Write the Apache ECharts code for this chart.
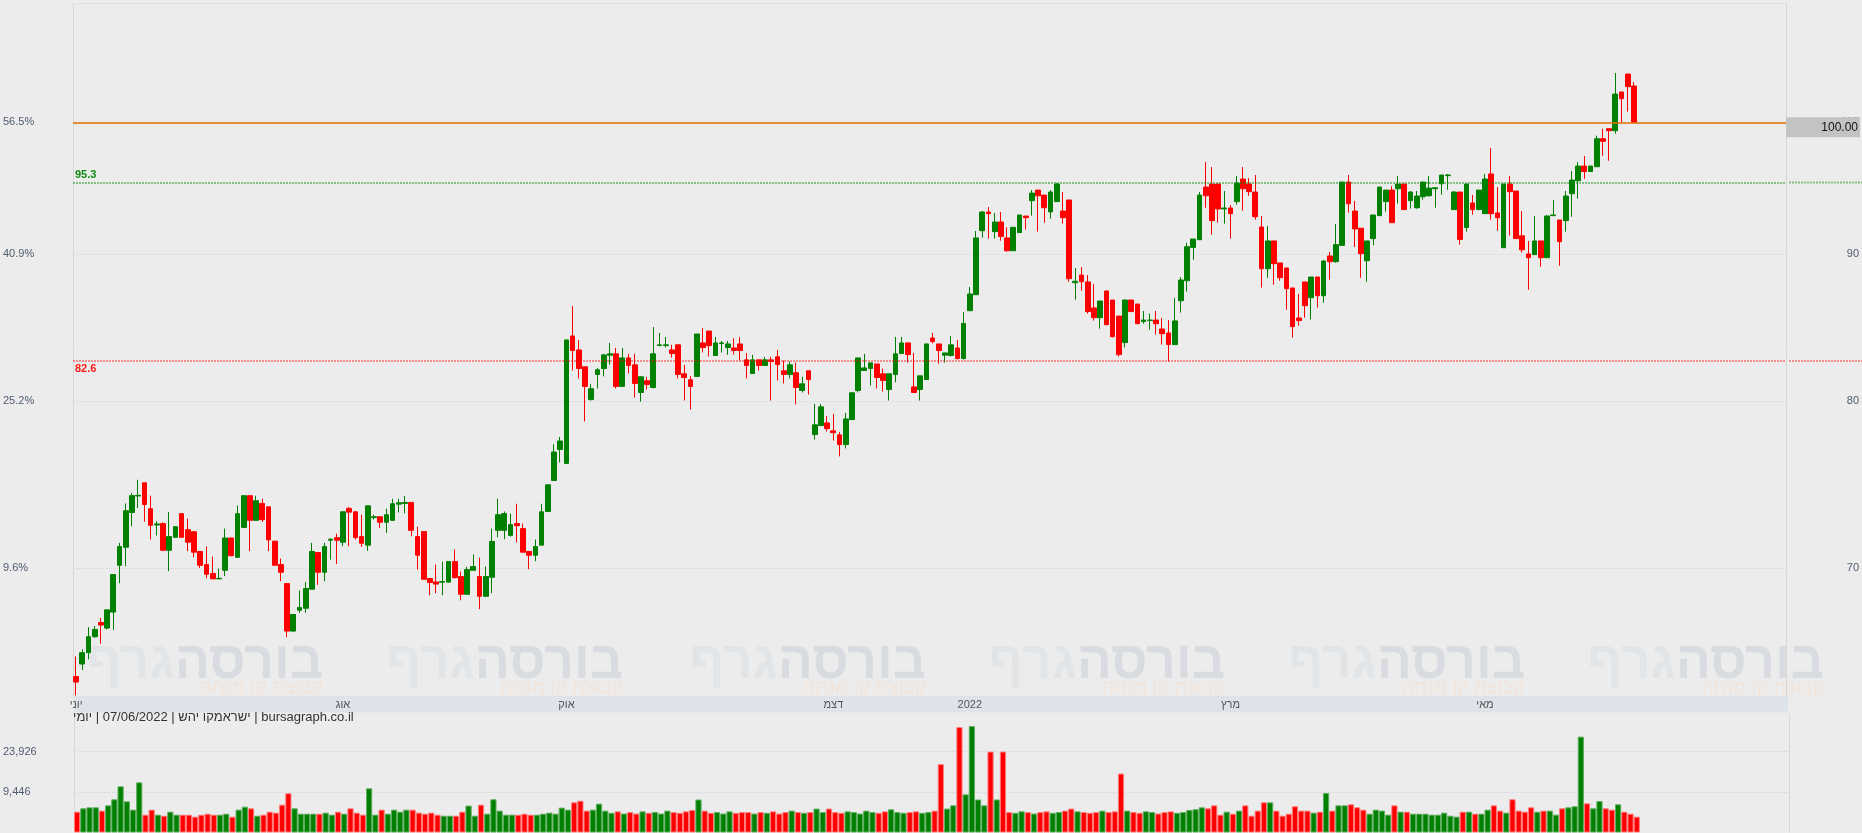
<!DOCTYPE html>
<html><head><meta charset="utf-8">
<script src="https://cdn.jsdelivr.net/npm/echarts@6/dist/echarts.min.js"></script>
<style>html,body{margin:0;padding:0;background:#ececec;}#c{width:1862px;height:833px;}</style>
</head><body><div id="c"></div>
<script>
// ---- data (daily, 1 Jun 2021 .. 7 Jun 2022) ----
const opens = [
64.16,64.81,65.40,66.24,67.00,66.70,67.56,70.14,71.16,73.17,
74.14,74.93,73.39,72.44,72.52,70.99,71.73,73.10,72.17,72.05,
70.92,70.18,69.68,69.38,69.86,71.69,70.59,72.30,74.16,72.71,
73.70,73.50,71.51,70.18,69.12,66.54,67.66,67.77,68.81,70.86,
69.75,71.56,71.71,71.45,73.41,73.21,71.77,71.28,72.87,72.92,
72.60,72.71,73.66,73.70,73.76,71.77,72.06,69.40,69.21,69.20,
69.20,70.35,69.51,68.53,69.86,69.51,68.42,69.47,72.13,72.13,
71.84,72.52,72.23,70.92,70.71,71.28,73.23,75.07,76.96,76.10,
84.28,83.34,82.22,80.09,81.72,82.11,82.99,83.08,80.94,82.81,
82.35,80.55,81.31,80.87,83.63,83.63,83.34,83.68,81.76,81.37,
81.59,83.81,84.61,82.97,83.77,83.50,83.47,83.74,82.68,81.78,
82.68,82.31,82.68,82.88,81.96,81.72,81.83,80.68,81.96,77.88,
78.44,78.61,78.11,77.86,77.26,78.82,80.68,81.98,82.11,82.41,
81.76,80.74,81.72,83.10,83.81,80.91,80.74,81.39,84.14,83.74,
82.99,82.97,83.47,82.77,86.00,87.11,91.69,93.07,91.62,92.33,
91.16,90.23,91.55,92.77,93.92,94.72,94.34,93.08,93.85,93.14,
93.97,87.95,88.49,88.00,86.19,85.52,87.37,86.74,85.63,83.83,
86.74,86.46,85.25,85.32,85.36,84.75,84.48,83.70,86.69,88.09,
90.47,91.03,94.95,95.18,95.18,93.30,93.37,93.85,95.56,95.18,
94.57,91.96,88.94,90.94,89.35,88.99,87.58,85.50,88.00,86.90,
88.35,87.04,89.85,89.44,90.62,95.33,93.14,91.87,89.51,91.11,
92.80,93.85,94.72,94.82,95.18,93.92,93.39,94.22,94.29,94.82,
95.20,95.82,93.25,94.57,91.92,93.75,93.25,92.95,95.95,93.00,
90.45,95.18,94.65,91.31,90.00,89.95,90.94,89.73,92.80,92.48,
92.43,94.45,95.43,96.56,96.14,96.51,98.70,99.49,99.33,102.46,
103.94,102.95
];
const highs = [
65.20,65.57,66.75,66.81,67.25,67.68,69.62,71.41,73.70,74.31,
75.11,74.93,74.16,72.65,72.60,73.19,72.34,73.10,72.81,72.05,
70.92,71.20,70.63,69.96,72.23,71.69,73.58,74.16,74.16,74.16,
73.98,73.50,71.51,70.52,69.12,67.43,68.74,69.21,71.41,70.86,
71.41,71.67,71.94,73.21,73.50,73.21,73.04,73.56,73.04,72.92,
73.39,73.98,73.98,74.15,73.76,72.34,72.06,69.40,70.18,70.35,
70.35,71.03,69.79,70.05,70.75,70.57,70.07,72.23,73.98,73.23,
73.10,73.68,72.52,70.92,71.60,73.68,74.81,77.28,77.73,84.01,
86.32,84.01,82.22,81.11,82.15,83.08,83.81,83.48,83.48,83.08,
83.08,81.57,81.57,84.88,84.48,84.21,83.68,83.68,82.35,81.63,
84.41,84.81,84.61,84.21,83.94,83.94,84.12,84.19,83.14,83.01,
82.68,82.88,82.88,83.34,82.64,82.57,82.50,81.57,81.96,79.82,
79.82,79.05,79.18,78.04,79.24,80.53,82.81,83.08,82.48,82.41,
82.11,81.76,84.21,84.21,83.81,83.14,81.63,83.74,84.48,83.74,
83.14,84.28,84.01,85.91,87.65,91.67,93.14,93.44,93.00,93.07,
91.94,91.94,92.85,92.77,94.72,94.72,94.34,94.72,95.25,94.57,
93.97,88.99,89.06,88.49,87.86,86.67,87.37,86.74,85.63,86.74,
86.74,86.46,85.98,85.80,85.98,85.50,85.36,86.88,88.35,90.81,
91.08,94.57,96.87,96.48,95.18,94.65,93.59,95.79,96.48,95.63,
95.87,92.77,92.03,90.94,89.35,88.99,87.58,87.16,88.00,88.35,
88.35,89.56,90.14,92.18,95.33,95.87,93.90,91.87,90.94,92.85,
94.95,94.72,95.02,95.79,95.18,94.65,94.65,95.33,95.79,94.95,
95.87,95.95,94.65,94.57,95.18,94.35,94.72,95.95,97.96,94.95,
95.18,95.79,94.65,93.15,90.94,92.77,90.94,92.85,93.97,92.48,
94.65,96.17,96.87,97.33,96.56,98.94,99.49,99.49,104.03,102.46,
103.94,103.28
];
const lows = [
63.20,64.50,65.05,66.19,65.87,66.63,66.60,69.14,70.09,72.36,
73.43,72.63,71.60,71.83,70.94,69.81,71.73,71.73,70.94,70.59,
69.99,69.41,69.38,69.38,69.53,70.65,70.59,72.30,70.94,72.71,
72.62,70.94,70.14,69.25,66.22,66.54,67.52,67.52,68.81,69.05,
69.25,70.46,70.22,71.22,71.22,71.60,71.18,70.96,72.75,72.27,
71.98,72.71,73.17,73.12,71.79,69.90,69.36,68.48,68.59,68.48,
69.20,69.41,68.20,68.53,69.86,67.72,68.42,68.59,71.73,71.62,
71.77,71.43,70.88,69.92,70.37,71.28,73.23,75.07,76.16,76.10,
81.98,81.46,78.70,80.03,80.81,81.59,82.37,80.81,80.94,81.79,
80.22,79.96,80.74,80.81,83.63,83.50,82.83,81.46,80.03,79.46,
81.59,83.17,82.90,82.97,83.17,83.01,83.03,82.64,81.46,81.78,
81.98,82.31,80.03,81.33,81.13,81.46,79.78,80.55,80.42,77.57,
78.44,78.07,77.51,76.53,77.02,78.82,80.55,81.98,81.00,80.81,
80.61,80.03,81.20,83.10,82.50,80.55,80.03,81.39,83.77,82.43,
82.50,82.90,82.70,82.70,86.00,87.11,91.18,91.11,91.11,90.96,
90.16,90.23,91.55,91.77,92.80,91.62,92.28,92.57,93.85,92.21,
88.02,86.76,87.39,85.80,85.32,84.77,85.04,84.17,82.90,83.50,
85.94,85.11,85.11,84.70,84.37,83.70,82.57,83.70,85.87,87.32,
89.58,91.03,93.39,91.40,92.28,92.21,91.11,93.62,93.17,94.29,
92.50,87.60,88.30,87.81,88.09,86.07,84.17,84.98,85.52,85.39,
86.21,86.55,88.16,89.37,90.62,93.02,90.50,88.30,88.02,90.62,
92.80,93.10,92.28,93.70,93.25,93.32,93.32,93.99,94.22,93.39,
94.37,94.75,93.25,90.67,91.62,92.87,93.25,92.95,92.50,91.69,
90.45,91.33,91.11,90.09,87.46,89.95,89.09,89.73,92.80,89.16,
91.62,92.72,94.07,95.58,96.14,96.51,97.36,96.97,99.09,99.97,
100.86,100.00
];
const closes = [
63.88,65.40,66.24,66.63,66.86,67.68,69.62,71.20,73.27,74.16,
74.18,73.64,72.42,72.50,70.99,71.77,72.34,71.73,71.45,70.88,
70.14,69.64,69.38,69.41,71.69,70.68,73.10,74.16,72.71,73.86,
72.75,71.58,70.14,69.75,66.54,67.43,67.81,68.85,70.92,69.75,
71.20,71.62,71.56,73.21,73.19,71.71,71.39,73.56,72.92,72.60,
73.04,73.68,73.74,73.76,72.13,70.71,69.36,69.18,69.09,69.23,
70.35,69.45,68.53,69.90,70.07,68.42,69.51,71.49,73.04,73.10,
72.46,72.40,70.88,70.71,71.20,73.21,74.81,76.80,77.48,84.01,
83.30,82.11,80.94,80.79,82.02,83.01,83.08,80.94,82.81,82.31,
81.13,81.57,81.07,83.08,83.68,83.68,83.10,81.72,81.52,80.94,
84.41,83.50,83.63,83.81,83.81,83.74,83.30,83.30,82.31,82.68,
82.31,82.68,82.57,82.37,81.72,82.35,80.87,81.11,81.39,78.49,
79.63,78.25,78.00,77.26,78.86,80.53,82.81,82.15,82.48,81.52,
81.33,81.76,83.08,83.81,83.03,80.55,81.63,83.74,83.90,83.30,
83.14,83.68,82.77,85.13,87.16,91.16,93.07,92.95,92.33,91.26,
90.23,91.94,92.85,92.65,94.49,94.29,93.39,94.57,95.18,92.65,
88.23,88.05,88.02,85.94,85.52,86.67,85.04,84.23,83.03,86.74,
85.94,85.11,85.36,85.36,85.11,84.43,83.70,85.30,88.14,90.52,
91.08,94.34,94.29,92.43,93.30,93.37,92.95,95.25,94.82,94.60,
92.72,88.94,90.94,89.30,88.30,87.53,84.91,85.32,86.35,88.35,
87.04,89.49,89.44,90.67,95.33,93.69,91.82,90.02,90.94,92.85,
94.95,94.72,92.28,95.18,93.25,94.57,94.27,95.33,94.87,94.90,
95.87,95.87,94.57,91.04,95.18,93.25,94.72,95.56,92.95,92.65,
95.18,94.60,91.11,90.30,89.73,90.94,89.73,92.77,92.85,90.89,
94.27,95.48,96.56,96.14,96.56,98.70,98.49,99.33,102.29,101.91,
102.90,100.00
];
const volumes = [
6050,6540,6690,6690,6200,7000,8040,10830,7680,6340,
11860,5650,6340,5650,5520,6050,5650,5650,5650,5400,
5650,5780,5650,5650,5780,5400,6340,6790,6540,5520,
5650,6050,5920,7110,9220,6540,5780,5780,5780,5780,
5920,5650,6050,5780,6540,5920,5650,10340,5650,6340,
5780,6340,6050,6340,6340,5920,5780,5920,5650,5520,
5520,5520,6050,6960,5520,7110,5780,8040,6200,5650,
5650,5650,5780,5650,5650,5780,5920,5780,6640,6340,
7500,7780,6200,6340,7270,6200,5900,6100,5800,6000,
5800,6100,5900,6000,5800,6200,6000,5900,6100,6300,
8000,6200,5900,6000,5800,6100,5900,6000,6000,5800,
6000,5900,6100,5800,6000,6200,6000,5900,6000,6500,
6000,6500,6000,5900,6100,6000,5800,6200,6000,5900,
6100,6400,6000,5900,6000,6100,5900,6000,6200,18000,
6500,7000,42000,9000,43000,8000,7000,24000,8000,24000,
6000,5900,6100,6000,5800,6000,6100,5900,6000,6200,
6500,6100,6000,5900,6000,6200,6000,6100,14500,6200,
6000,5900,6100,6000,5800,6000,6100,5900,6000,6300,
6400,6690,6540,7000,5650,6050,5780,6200,7000,5520,
6200,7500,7500,6200,5520,5780,6850,6200,6200,5920,
6050,9300,6200,7000,7000,7170,6690,6340,5780,6340,
6200,5650,7000,6050,6050,5780,5780,5780,5650,5650,
5920,5520,5400,6050,6050,5780,5780,6340,7000,6200,
5920,8040,6200,6050,6690,6050,6200,6200,5650,6540,
6690,6850,33800,7330,6540,7720,6540,6340,7170,6050,
5780,5400
];
// month labels by trading-day index
const monthLabelIdx = [0, 43, 79, 122, 144, 186, 227];
const monthLabelTxt = ['יוני', 'אוג', 'אוק', 'דצמ', '2022', 'מרץ', 'מאי'];
const priceTicks = [70, 80, 90, 100];
const pctLabels = ['9.6%', '25.2%', '40.9%', '56.5%'];
const volTicks = [9446, 23926];
const resistLevel = 95.3;
const supportLevel = 82.6;
const lastPrice = 100.00;
const infoText = 'יומי\u200E | 07/06/2022 | ישראמקו יהש\u200E | bursagraph.co.il';

// ---- chart ----
const N_SLOTS = 276;
const slots = Array.from({length: N_SLOTS}, (_, i) => String(i));
const UP = '#008000', DOWN = '#ff0000';
const FONT = '"Liberation Sans", Arial, sans-serif';
const candleData = opens.map((o, i) => [o, closes[i], lows[i], highs[i]]);
const volData = volumes.map((v, i) => {
  const up = closes[i] >= opens[i];
  return {value: v, itemStyle: {color: up ? UP : DOWN, borderColor: up ? '#5fae5f' : '#ff7d7d'}};
});
const monthMap = {};
monthLabelIdx.forEach((k, j) => monthMap[k] = monthLabelTxt[j]);

const W = 1862, LEFT = 73, WIDTH = 1716;
const wmRight = [323, 623, 926, 1225, 1525, 1824];
const graphics = [{id: 'band', type: 'rect', z: -10, silent: true,
  shape: {x: LEFT + 1, y: 696, width: WIDTH - 2, height: 16.5}, style: {fill: '#dee3ea'}}];
wmRight.forEach((r, k) => {
  graphics.push({id: 'wm' + k, type: 'text', x: r, y: 690, z: -20, silent: true,
    style: {text: '{a|גרף}{b|בורסה}', align: 'right', verticalAlign: 'bottom',
      rich: {a: {fontSize: 52, fontWeight: 'bold', fontFamily: FONT, fill: '#e2e5e8'},
             b: {fontSize: 52, fontWeight: 'bold', fontFamily: FONT, fill: '#d8dce1'}}}});
  graphics.push({id: 'ws' + k, type: 'text', x: r, y: 697, z: -20, silent: true,
    style: {text: 'קבוצת קו מנחה', align: 'right', verticalAlign: 'bottom',
      font: '19px ' + FONT, fill: '#f3e4d9'}});
});

const chart = echarts.init(document.getElementById('c'), null, {renderer: 'canvas'});
chart.setOption({
  animation: false,
  backgroundColor: '#ececec',
  textStyle: {fontFamily: FONT},
  title: {text: infoText, left: 73, top: 711, padding: 0,
    textStyle: {fontSize: 13, fontWeight: 'normal', color: '#333', fontFamily: FONT}},
  graphic: graphics,
  grid: [
    {left: LEFT, width: WIDTH, top: 3.3, height: 692.7},
    {left: LEFT, width: WIDTH, top: 714, height: 118}
  ],
  xAxis: [
    {gridIndex: 0, type: 'category', data: slots, boundaryGap: true,
      axisLine: {show: false}, axisTick: {show: false}, splitLine: {show: false},
      axisLabel: {show: true, margin: 3, interval: 0, color: '#555', fontSize: 11,
        fontFamily: FONT, formatter: (v, i) => monthMap[i] || ''}},
    {gridIndex: 1, type: 'category', data: slots, boundaryGap: true,
      axisLine: {show: false}, axisTick: {show: false}, axisLabel: {show: false}, splitLine: {show: false}}
  ],
  yAxis: [
    {gridIndex: 0, type: 'log', logBase: 10, min: 63.17, max: 110, position: 'right',
      axisLine: {show: true, lineStyle: {color: '#d8d8d8'}},
      axisTick: {show: false, customValues: [70, 80, 90, 100, 110]},
      axisLabel: {customValues: priceTicks, align: 'right', margin: 73, color: '#4f5b70', fontSize: 11,
        fontFamily: FONT, formatter: v => String(Math.round(v))},
      splitLine: {show: true, lineStyle: {color: '#d6d6de', type: 'dotted', width: 1}}},
    {gridIndex: 0, type: 'log', logBase: 10, min: 63.17, max: 110, position: 'left',
      axisLine: {show: true, lineStyle: {color: '#d8d8d8'}},
      axisTick: {show: false},
      axisLabel: {customValues: priceTicks, align: 'left', margin: 70, color: '#4f5b70', fontSize: 11,
        fontFamily: FONT, formatter: v => pctLabels[priceTicks.indexOf(Math.round(v))] || ''},
      splitLine: {show: false}},
    {gridIndex: 1, type: 'log', logBase: 10, min: 3800, max: 56740, position: 'left',
      axisLine: {show: true, lineStyle: {color: '#d8d8d8'}},
      axisTick: {show: false, customValues: volTicks},
      axisLabel: {customValues: volTicks, align: 'left', margin: 71, color: '#4f5b70', fontSize: 11,
        fontFamily: FONT, formatter: v => Math.round(v).toLocaleString('en-US')},
      splitLine: {show: true, lineStyle: {color: '#d6d6de', type: 'dotted', width: 1}}},
    {gridIndex: 1, type: 'log', logBase: 10, min: 3800, max: 56740, position: 'right',
      axisLine: {show: true, lineStyle: {color: '#d8d8d8'}},
      axisTick: {show: false}, axisLabel: {show: false}, splitLine: {show: false}}
  ],
  series: [
    {type: 'candlestick', xAxisIndex: 0, yAxisIndex: 0, data: candleData, barWidth: '84%',
      itemStyle: {color: UP, color0: DOWN, borderColor: UP, borderColor0: DOWN, borderWidth: 1},
      markLine: {symbol: ['none', 'none'], silent: true, animation: false, precision: 2,
        data: [
          {yAxis: resistLevel,
            lineStyle: {color: 'rgba(0,140,0,0.45)', type: [2, 1], width: 2},
            label: {show: true, position: 'insideStartTop', distance: 2, formatter: String(resistLevel),
              color: '#108a10', fontWeight: 'bold', fontSize: 11, fontFamily: FONT}},
          {yAxis: supportLevel,
            lineStyle: {color: 'rgba(255,0,0,0.4)', type: [2, 1], width: 2},
            label: {show: true, position: 'insideStartBottom', distance: 2, formatter: String(supportLevel),
              color: '#ff1a1a', fontWeight: 'bold', fontSize: 11, fontFamily: FONT}},
          {yAxis: lastPrice,
            lineStyle: {color: '#e37100', type: 'solid', width: 1.5},
            label: {show: true, position: 'end', distance: 0, offset: [0, 5],
              formatter: '{b|' + lastPrice.toFixed(2) + '}',
              rich: {b: {backgroundColor: '#c3c3c3', color: '#111', fontSize: 12, fontFamily: FONT,
                width: 58, align: 'right', padding: [4, 2, 4, 14], lineHeight: 12}}}}
        ]}},
    {type: 'bar', xAxisIndex: 1, yAxisIndex: 2, data: volData, barCategoryGap: '0%',
      itemStyle: {borderWidth: 1}}
  ]
});

// extend the two level lines across the right label strip, using the axis scale
const gx = LEFT + WIDTH;
const yR = chart.convertToPixel({yAxisIndex: 0}, resistLevel);
const yS = chart.convertToPixel({yAxisIndex: 0}, supportLevel);
chart.setOption({graphic: [
  {id: 'extR', type: 'line', silent: true, shape: {x1: gx, y1: yR, x2: W, y2: yR},
    style: {stroke: 'rgba(0,140,0,0.45)', lineWidth: 2, lineDash: [2, 1]}},
  {id: 'extS', type: 'line', silent: true, shape: {x1: gx, y1: yS, x2: W, y2: yS},
    style: {stroke: 'rgba(255,0,0,0.4)', lineWidth: 2, lineDash: [2, 1]}}
]});
</script></body></html>
